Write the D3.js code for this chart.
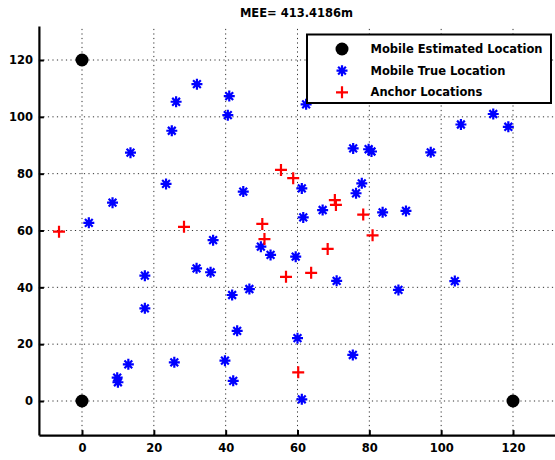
<!DOCTYPE html>
<html><head><meta charset="utf-8">
<script src="https://cdn.jsdelivr.net/npm/d3@7"></script>
<style>body{margin:0;background:#fff}svg{display:block}text{font-family:"DejaVu Sans",sans-serif;font-weight:bold;fill:#000}</style>
</head><body><svg id="c" width="555" height="460"></svg>
<script>
const titleText = "MEE= 413.4186m";
const tickValues = [0, 20, 40, 60, 80, 100, 120];
const legendLabels = ["Mobile Estimated Location", "Mobile True Location", "Anchor Locations"];
const estX = [0, 0, 120];
const estY = [120, 0, 0];
const trueX = [32, 26.2, 25.0, 13.5, 23.4, 8.5, 1.9, 41.0, 40.6, 62.4, 75.5, 79.8, 80.6, 44.9, 61.2, 77.9, 76.3, 67.0, 61.6, 36.5, 114.5, 118.7, 105.5, 97.1, 83.7, 90.2, 17.5, 17.5, 12.9, 9.8, 10.0, 25.7, 31.9, 35.8, 49.8, 52.5, 59.5, 70.9, 46.6, 41.8, 43.2, 60.0, 39.8, 42.1, 61.2, 75.4, 88.1, 103.8];
const trueY = [111.5, 105.3, 95.1, 87.4, 76.4, 69.8, 62.7, 107.3, 100.6, 104.4, 88.9, 88.6, 87.8, 73.7, 74.8, 76.6, 73.1, 67.2, 64.6, 56.6, 101.0, 96.5, 97.3, 87.5, 66.4, 66.9, 44.1, 32.6, 12.9, 8.2, 6.6, 13.6, 46.7, 45.3, 54.3, 51.4, 50.8, 42.3, 39.4, 37.3, 24.7, 22.1, 14.2, 7.1, 0.6, 16.2, 39.1, 42.2];
const anchorX = [-6.4, 28.4, 55.4, 58.8, 70.4, 70.7, 78.3, 50.2, 50.8, 56.8, 63.8, 68.4, 60.2, 80.9];
const anchorY = [59.6, 61.3, 81.3, 78.4, 70.7, 69.0, 65.6, 62.3, 57.0, 43.7, 45.1, 53.5, 10.1, 58.3];

const svg = d3.select("#c");
const x = d3.scaleLinear().domain([-12, 132]).range([38.9, 556.1]);
const y = d3.scaleLinear().domain([-12, 132]).range([435.1, 25.9]);
const [xl, xr] = x.range(); const [yb, yt] = y.range();

// grid
const g = svg.append("g");
g.selectAll("line.v").data(tickValues).join("line")
  .attr("x1", d => x(d)).attr("x2", d => x(d)).attr("y1", yb).attr("y2", yt)
  .attr("stroke", "#333").attr("stroke-width", 1).attr("stroke-dasharray", "1.2,3.3");
g.selectAll("line.h").data(tickValues).join("line")
  .attr("y1", d => y(d)).attr("y2", d => y(d)).attr("x1", xl).attr("x2", xr)
  .attr("stroke", "#333").attr("stroke-width", 1).attr("stroke-dasharray", "1.2,3.3");

// axes
const ax = svg.append("g").attr("transform", `translate(0,${yb})`)
  .call(d3.axisBottom(x).tickValues(tickValues).tickSize(-5).tickSizeOuter(0).tickPadding(9));
const ay = svg.append("g").attr("transform", `translate(${xl},0)`)
  .call(d3.axisLeft(y).tickValues(tickValues).tickSize(-5).tickSizeOuter(0).tickPadding(6));
[ax, ay].forEach(a => {
  a.select(".domain").attr("stroke", "#000").attr("stroke-width", 2.2);
  a.selectAll(".tick line").attr("stroke", "#000").attr("stroke-width", 2);
  a.selectAll(".tick text").attr("font-size", "11.5px").attr("font-family", "DejaVu Sans").attr("font-weight", "bold").attr("fill", "#000");
});

// title
svg.append("text").attr("x", (xl + xr) / 2 - 1).attr("y", 16.5).attr("text-anchor", "middle")
  .attr("font-size", "11.5px").text(titleText);

// marker helpers
function star(sel, cx, cy, r) {
  const a = r * Math.SQRT1_2;
  const p = `M${cx - r},${cy}L${cx + r},${cy}M${cx},${cy - r}L${cx},${cy + r}M${cx - a},${cy - a}L${cx + a},${cy + a}M${cx - a},${cy + a}L${cx + a},${cy - a}`;
  sel.append("path").attr("d", p).attr("stroke", "#0000ff").attr("stroke-width", 2.2).attr("fill", "none");
}
function plus(sel, cx, cy, r) {
  sel.append("path").attr("d", `M${cx - r},${cy}L${cx + r},${cy}M${cx},${cy - r}L${cx},${cy + r}`)
    .attr("stroke", "#ff0000").attr("stroke-width", 2.2).attr("fill", "none");
}
const m = svg.append("g");
estX.forEach((v, i) => m.append("circle").attr("cx", x(v)).attr("cy", y(estY[i])).attr("r", 6.5).attr("fill", "#000"));
trueX.forEach((v, i) => star(m, x(v), y(trueY[i]), 5.5));
anchorX.forEach((v, i) => plus(m, x(v), y(anchorY[i]), 6));

// legend
const L = svg.append("g");
L.append("rect").attr("x", 307).attr("y", 34.5).attr("width", 244).attr("height", 68.5)
  .attr("fill", "#fff").attr("stroke", "#000").attr("stroke-width", 2);
const rowsY = [49, 70.7, 92.3];
L.append("circle").attr("cx", 342).attr("cy", rowsY[0]).attr("r", 6.5).attr("fill", "#000");
star(L, 342, rowsY[1], 5.5);
plus(L, 342, rowsY[2], 6);
legendLabels.forEach((t, i) => L.append("text").attr("x", 370.5).attr("y", rowsY[i]).attr("dy", "0.36em")
  .attr("font-size", "11.5px").text(t));
</script></body></html>
